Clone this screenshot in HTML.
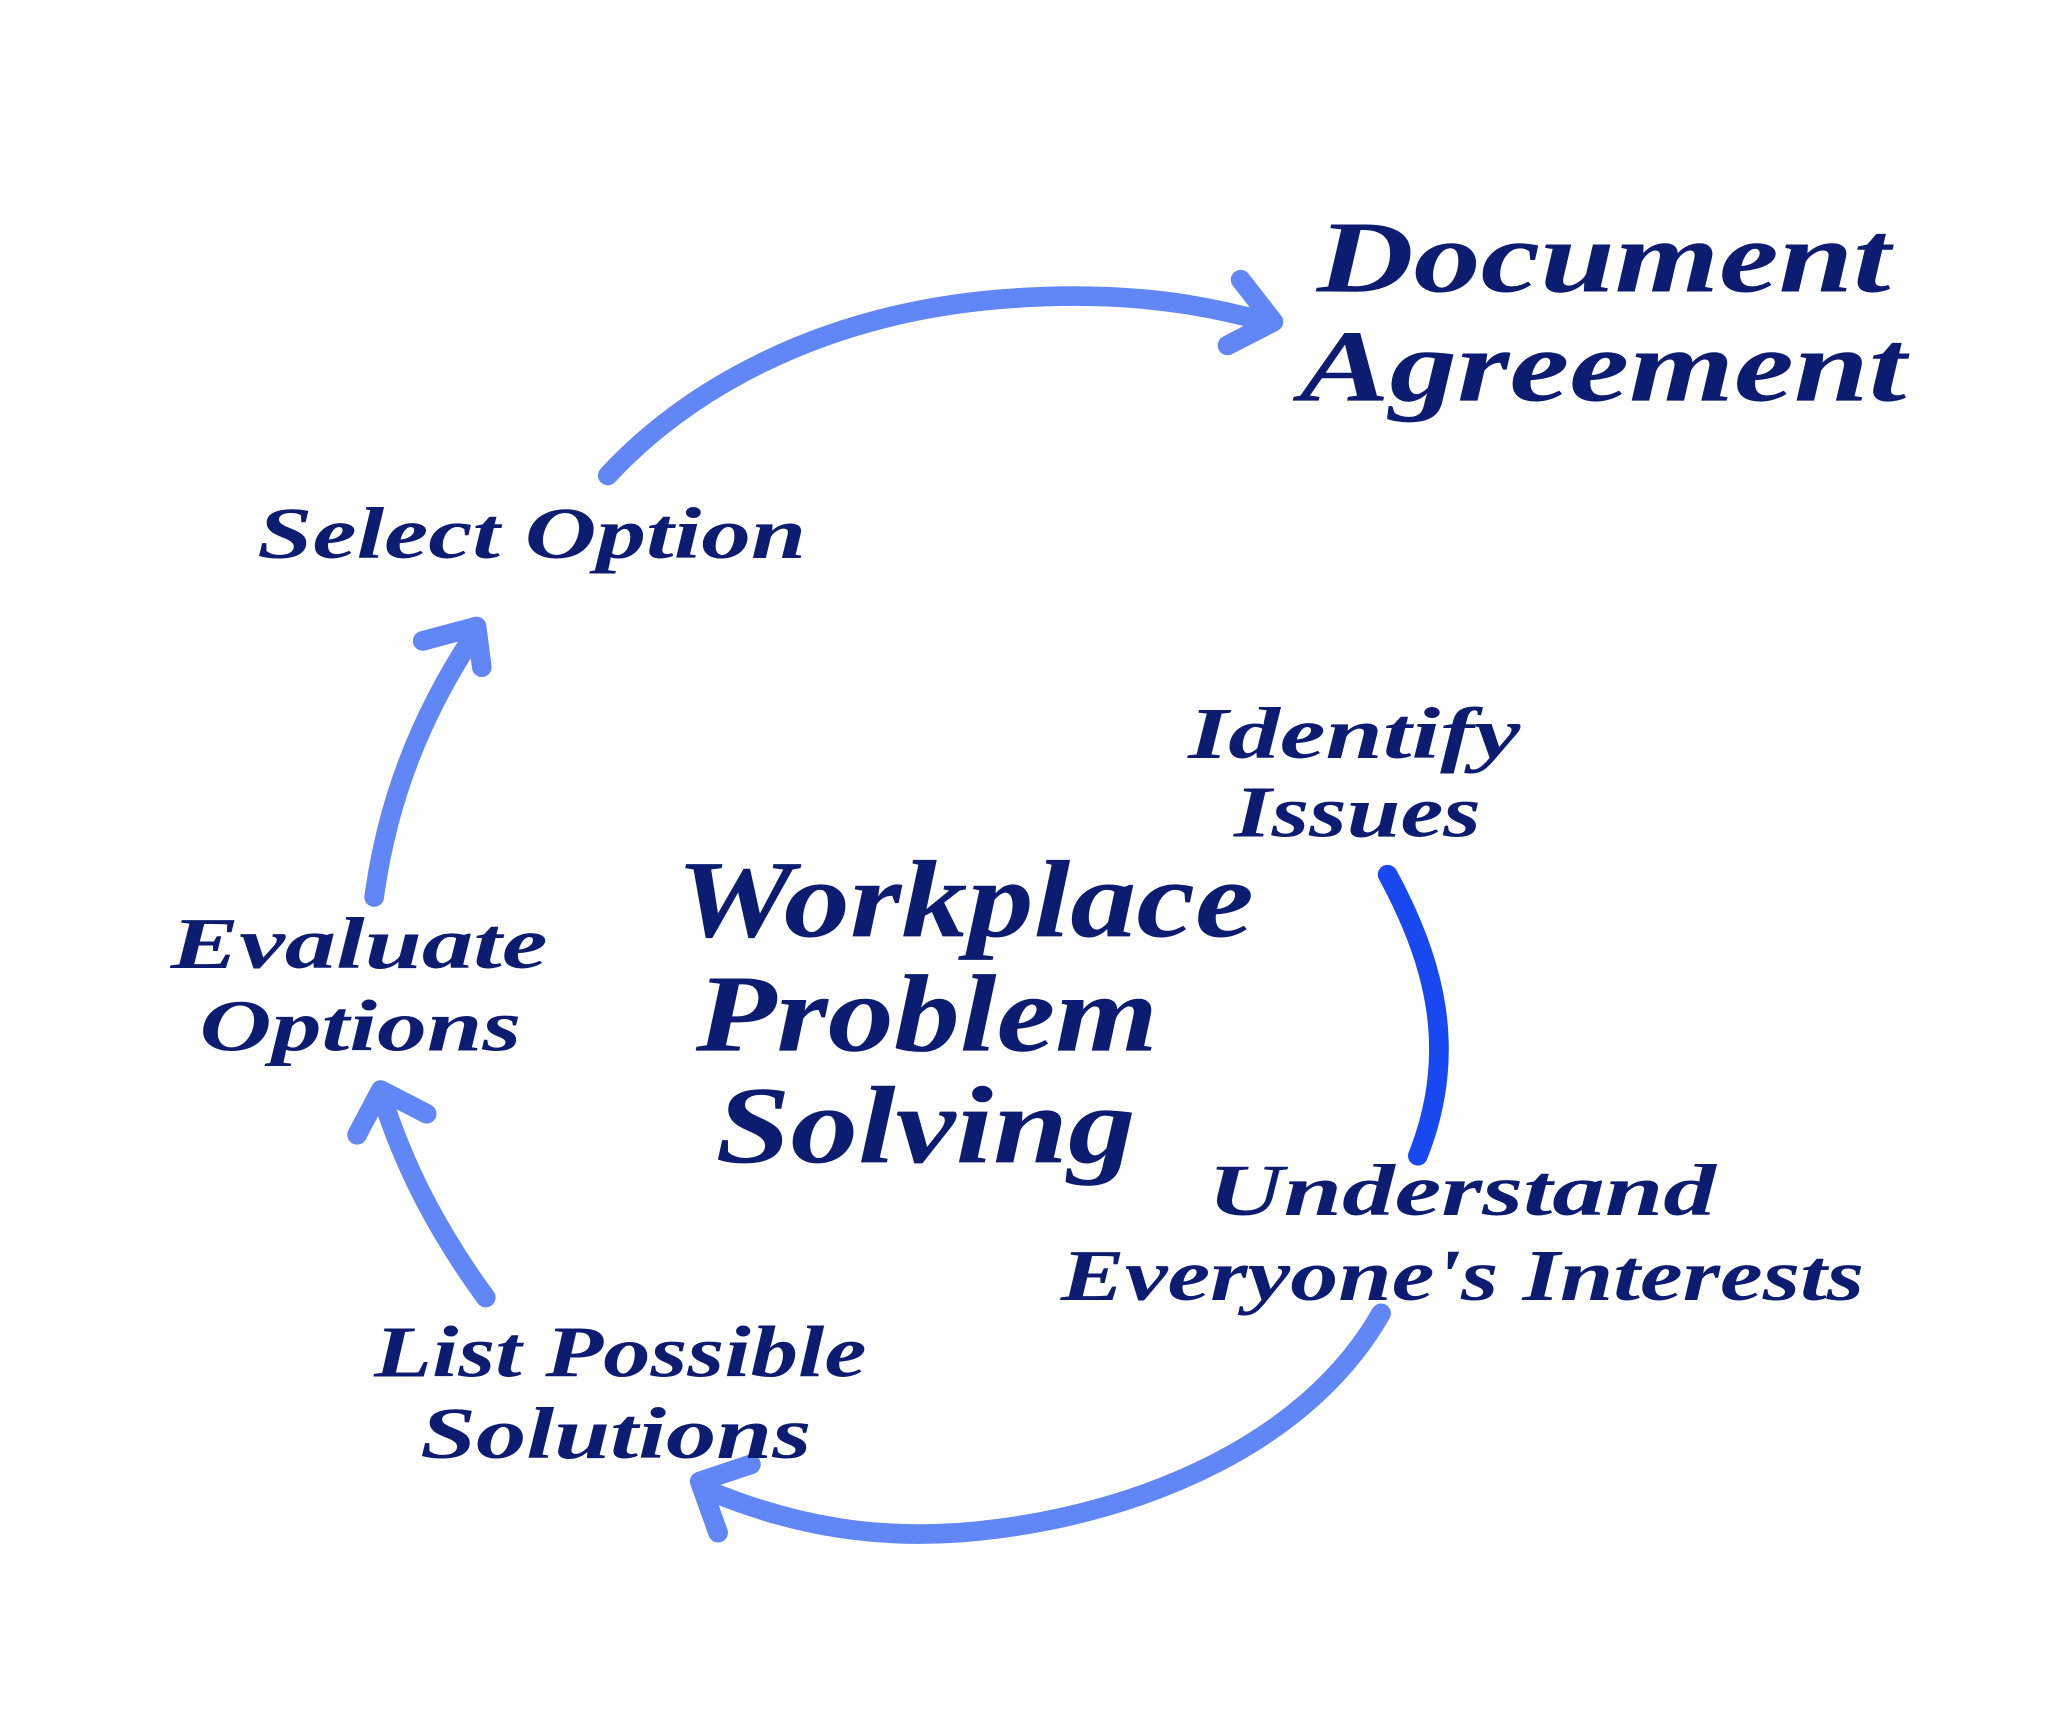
<!DOCTYPE html>
<html><head><meta charset="utf-8"><style>
html,body{margin:0;padding:0;background:#fff;}
svg{display:block;}
text{font-family:"Liberation Serif",serif;font-style:italic;font-weight:bold;fill:#0c1c70;}
</style></head><body>
<svg width="2048" height="1731" viewBox="0 0 1560 1318" preserveAspectRatio="none" xmlns="http://www.w3.org/2000/svg">
<rect width="1560" height="1318" fill="#fff"/>
<g fill="none" stroke="#6186f5" stroke-width="15" stroke-linecap="round" stroke-linejoin="round">
  <path d="M463,362 C520,300 620,240 760,228 C830,222 880,228 905,232 C930,236 950,241 968,246"/>
  <path d="M945,213 L970,245 L935,263"/>
  <path d="M285,683 C295,610 320,545 362,482"/>
  <path d="M322,488 L363,477 L367,508"/>
  <path d="M370,988 C335,940 308,890 290,832"/>
  <path d="M272,864 L290,830 L325,848"/>
  <path d="M1052,1000 C995,1100 870,1150 760,1164 C670,1176 600,1160 540,1135"/>
  <path d="M547,1167 L533,1128 L572,1115"/>
</g>
<path d="M1057,666 C1092,730 1112,800 1080,880" fill="none" stroke="#1848f0" stroke-width="15" stroke-linecap="round"/>
<text x="1003" y="222" font-size="78" textLength="437" lengthAdjust="spacingAndGlyphs">Document</text>
<text x="990" y="305" font-size="78" textLength="462" lengthAdjust="spacingAndGlyphs">Agreement</text>
<text x="196" y="425" font-size="56" textLength="418" lengthAdjust="spacingAndGlyphs">Select Option</text>
<text x="905" y="577" font-size="56" textLength="253" lengthAdjust="spacingAndGlyphs">Identify</text>
<text x="940" y="637" font-size="56" textLength="188" lengthAdjust="spacingAndGlyphs">Issues</text>
<text x="130" y="737" font-size="56" textLength="287" lengthAdjust="spacingAndGlyphs">Evaluate</text>
<text x="152" y="800" font-size="56" textLength="245" lengthAdjust="spacingAndGlyphs">Options</text>
<text x="515" y="713" font-size="84" textLength="440" lengthAdjust="spacingAndGlyphs">Workplace</text>
<text x="530" y="800" font-size="84" textLength="352" lengthAdjust="spacingAndGlyphs">Problem</text>
<text x="545" y="885" font-size="84" textLength="320" lengthAdjust="spacingAndGlyphs">Solving</text>
<text x="920" y="925" font-size="56" textLength="387" lengthAdjust="spacingAndGlyphs">Understand</text>
<text x="808" y="990" font-size="56" textLength="612" lengthAdjust="spacingAndGlyphs">Everyone's Interests</text>
<text x="285" y="1048" font-size="56" textLength="375" lengthAdjust="spacingAndGlyphs">List Possible</text>
<text x="320" y="1110" font-size="56" textLength="298" lengthAdjust="spacingAndGlyphs">Solutions</text>
</svg>
</body></html>
